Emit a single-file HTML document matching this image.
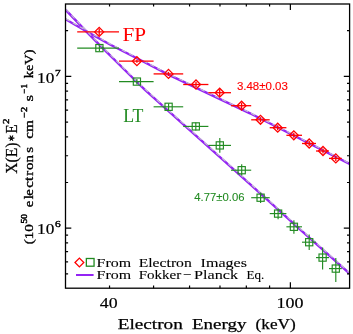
<!DOCTYPE html><html><head><meta charset="utf-8"><style>html,body{margin:0;padding:0;background:#fff}svg{display:block;will-change:transform}text{font-family:"Liberation Serif",serif;fill:#000;stroke:#000;stroke-width:0.25}.s{font-family:"Liberation Sans",sans-serif}</style></head><body>
<svg width="353" height="334" viewBox="0 0 353 334">
<rect width="353" height="334" fill="#fff"/>
<clipPath id="c"><rect x="65.5" y="4.0" width="284.1" height="284.2"/></clipPath>
<g clip-path="url(#c)">
<polyline points="65.5,19.2 87.2,31.8 110,44.5 136.9,58.3 170,75.3 230,103.9 250,113.3 349.6,164.0" fill="none" stroke="#9424f4" stroke-width="2.4" />
<polyline points="65.5,9.7 87.2,32.3 100,45.4 136.9,82.0 145,89.9 185,125.9 225,161.6 265,197.6 301.1,230.3 349.6,273.6" fill="none" stroke="#9424f4" stroke-width="2.4" />
<g transform="translate(0.38,-0.44)" opacity="1">
<polyline points="65.5,19.2 87.2,31.8 110,44.5 136.9,58.3 170,75.3 230,103.9 250,113.3 349.6,164.0" fill="none" stroke="#c6c6ce" stroke-width="1.05" stroke-dasharray="4.5 3.5"/>
<polyline points="65.5,9.7 87.2,32.3 100,45.4 136.9,82.0 145,89.9 185,125.9 225,161.6 265,197.6 301.1,230.3 349.6,273.6" fill="none" stroke="#c6c6ce" stroke-width="1.05" stroke-dasharray="4.5 3.5"/>
</g></g>
<g stroke="#ff0000" stroke-width="1.3" fill="none"><line x1="77.2" y1="31.9" x2="119" y2="31.9"/><line x1="99.2" y1="28.4" x2="99.2" y2="35.4"/><path d="M94.70,31.9L99.2,27.40L103.70,31.9L99.2,36.40Z"/></g>
<g stroke="#ff0000" stroke-width="1.3" fill="none"><line x1="119" y1="61.2" x2="153.6" y2="61.2"/><line x1="136.9" y1="59.7" x2="136.9" y2="62.7"/><path d="M132.40,61.2L136.9,56.70L141.40,61.2L136.9,65.70Z"/></g>
<g stroke="#ff0000" stroke-width="1.3" fill="none"><line x1="153.6" y1="73.9" x2="183.2" y2="73.9"/><line x1="168.5" y1="71.9" x2="168.5" y2="75.9"/><path d="M164.00,73.9L168.5,69.40L173.00,73.9L168.5,78.40Z"/></g>
<g stroke="#ff0000" stroke-width="1.3" fill="none"><line x1="183.2" y1="84.5" x2="208.4" y2="84.5"/><line x1="196.0" y1="82.0" x2="196.0" y2="87.0"/><path d="M191.50,84.5L196.0,80.00L200.50,84.5L196.0,89.00Z"/></g>
<g stroke="#ff0000" stroke-width="1.3" fill="none"><line x1="208.4" y1="92.7" x2="231" y2="92.7"/><line x1="219.7" y1="89.2" x2="219.7" y2="96.2"/><path d="M215.20,92.7L219.7,88.20L224.20,92.7L219.7,97.20Z"/></g>
<g stroke="#ff0000" stroke-width="1.3" fill="none"><line x1="231" y1="105.7" x2="251.2" y2="105.7"/><line x1="241.6" y1="102.7" x2="241.6" y2="108.7"/><path d="M237.10,105.7L241.6,101.20L246.10,105.7L241.6,110.20Z"/></g>
<g stroke="#ff0000" stroke-width="1.3" fill="none"><line x1="251.2" y1="119.8" x2="269.7" y2="119.8"/><line x1="260.5" y1="117.3" x2="260.5" y2="122.3"/><path d="M256.00,119.8L260.5,115.30L265.00,119.8L260.5,124.30Z"/></g>
<g stroke="#ff0000" stroke-width="1.3" fill="none"><line x1="269.7" y1="127.7" x2="286.4" y2="127.7"/><line x1="277.7" y1="125.2" x2="277.7" y2="130.2"/><path d="M273.20,127.7L277.7,123.20L282.20,127.7L277.7,132.20Z"/></g>
<g stroke="#ff0000" stroke-width="1.3" fill="none"><line x1="286.4" y1="135.3" x2="302" y2="135.3"/><line x1="293.8" y1="132.8" x2="293.8" y2="137.8"/><path d="M289.30,135.3L293.8,130.80L298.30,135.3L293.8,139.80Z"/></g>
<g stroke="#ff0000" stroke-width="1.3" fill="none"><line x1="302" y1="143.5" x2="316" y2="143.5"/><line x1="309.2" y1="141.0" x2="309.2" y2="146.0"/><path d="M304.70,143.5L309.2,139.00L313.70,143.5L309.2,148.00Z"/></g>
<g stroke="#ff0000" stroke-width="1.3" fill="none"><line x1="316" y1="151.0" x2="329" y2="151.0"/><line x1="323.0" y1="148.5" x2="323.0" y2="153.5"/><path d="M318.50,151.0L323.0,146.50L327.50,151.0L323.0,155.50Z"/></g>
<g stroke="#ff0000" stroke-width="1.3" fill="none"><line x1="329" y1="158.4" x2="341.8" y2="158.4"/><line x1="335.8" y1="155.9" x2="335.8" y2="160.9"/><path d="M331.30,158.4L335.8,153.90L340.30,158.4L335.8,162.90Z"/></g>
<g stroke="#228b22" stroke-width="1.15" fill="none"><line x1="77.2" y1="48.1" x2="119" y2="48.1"/><line x1="99.4" y1="45.5" x2="99.4" y2="51"/><rect x="95.80" y="44.50" width="7.2" height="7.2"/></g>
<g stroke="#228b22" stroke-width="1.15" fill="none"><line x1="119" y1="81.6" x2="153.6" y2="81.6"/><line x1="136.9" y1="79" x2="136.9" y2="84.5"/><rect x="133.30" y="78.00" width="7.2" height="7.2"/></g>
<g stroke="#228b22" stroke-width="1.15" fill="none"><line x1="153.6" y1="106.8" x2="183.2" y2="106.8"/><line x1="168.6" y1="103.5" x2="168.6" y2="110"/><rect x="165.00" y="103.20" width="7.2" height="7.2"/></g>
<g stroke="#228b22" stroke-width="1.15" fill="none"><line x1="183.2" y1="126.4" x2="208.4" y2="126.4"/><line x1="195.8" y1="122.5" x2="195.8" y2="130.5"/><rect x="192.20" y="122.80" width="7.2" height="7.2"/></g>
<g stroke="#228b22" stroke-width="1.15" fill="none"><line x1="208.4" y1="145.4" x2="231" y2="145.4"/><line x1="219.8" y1="137.9" x2="219.8" y2="152.8"/><rect x="216.20" y="141.80" width="7.2" height="7.2"/></g>
<g stroke="#228b22" stroke-width="1.15" fill="none"><line x1="231" y1="170.2" x2="251.2" y2="170.2"/><line x1="241.7" y1="164.3" x2="241.7" y2="175.5"/><rect x="238.10" y="166.60" width="7.2" height="7.2"/></g>
<g stroke="#228b22" stroke-width="1.15" fill="none"><line x1="251.2" y1="197.7" x2="269.7" y2="197.7"/><line x1="260.6" y1="192.5" x2="260.6" y2="203"/><rect x="257.00" y="194.10" width="7.2" height="7.2"/></g>
<g stroke="#228b22" stroke-width="1.15" fill="none"><line x1="269.7" y1="213.6" x2="286.4" y2="213.6"/><line x1="278.1" y1="208.5" x2="278.1" y2="219.3"/><rect x="274.50" y="210.00" width="7.2" height="7.2"/></g>
<g stroke="#228b22" stroke-width="1.15" fill="none"><line x1="286.4" y1="226.8" x2="302" y2="226.8"/><line x1="293.9" y1="220.2" x2="293.9" y2="233.7"/><rect x="290.30" y="223.20" width="7.2" height="7.2"/></g>
<g stroke="#228b22" stroke-width="1.15" fill="none"><line x1="302" y1="242.2" x2="316" y2="242.2"/><line x1="309.2" y1="234.5" x2="309.2" y2="250"/><rect x="305.60" y="238.60" width="7.2" height="7.2"/></g>
<g stroke="#228b22" stroke-width="1.15" fill="none"><line x1="316" y1="257.6" x2="329" y2="257.6"/><line x1="322.6" y1="247.4" x2="322.6" y2="269.4"/><rect x="319.00" y="254.00" width="7.2" height="7.2"/></g>
<g stroke="#228b22" stroke-width="1.15" fill="none"><line x1="329" y1="268.6" x2="341.8" y2="268.6"/><line x1="335.8" y1="257.9" x2="335.8" y2="282.1"/><rect x="332.20" y="265.00" width="7.2" height="7.2"/></g>
<rect x="65.5" y="4.0" width="284.1" height="284.2" fill="none" stroke="#000" stroke-width="1.3"/>
<path d="M109.54,288.2v-2.6M109.54,4.0v2.6M153.58,288.2v-2.6M153.58,4.0v2.6M189.56,288.2v-2.6M189.56,4.0v2.6M219.98,288.2v-2.6M219.98,4.0v2.6M246.33,288.2v-2.6M246.33,4.0v2.6M269.58,288.2v-2.6M269.58,4.0v2.6M290.37,288.2v-6M290.37,4.0v6M65.5,273.90h2.6M349.6,273.90h-2.6M65.5,261.88h2.6M349.6,261.88h-2.6M65.5,251.71h2.6M349.6,251.71h-2.6M65.5,242.91h2.6M349.6,242.91h-2.6M65.5,235.15h2.6M349.6,235.15h-2.6M65.5,228.20h5.8M349.6,228.20h-5.8M65.5,182.50h2.6M349.6,182.50h-2.6M65.5,155.77h2.6M349.6,155.77h-2.6M65.5,136.81h2.6M349.6,136.81h-2.6M65.5,122.10h2.6M349.6,122.10h-2.6M65.5,110.08h2.6M349.6,110.08h-2.6M65.5,99.91h2.6M349.6,99.91h-2.6M65.5,91.11h2.6M349.6,91.11h-2.6M65.5,83.35h2.6M349.6,83.35h-2.6M65.5,76.40h5.8M349.6,76.40h-5.8M65.5,30.70h2.6M349.6,30.70h-2.6" stroke="#000" stroke-width="1.2" fill="none"/>
<text x="99.8" y="307.7" font-size="15.3" textLength="17.80" lengthAdjust="spacingAndGlyphs" style="stroke-width:0.2;">40</text>
<text x="276.6" y="307.7" font-size="15.3" textLength="27.00" lengthAdjust="spacingAndGlyphs" style="stroke-width:0.2;">100</text>
<text x="37" y="82.7" font-size="15.4" textLength="17.30" lengthAdjust="spacingAndGlyphs" style="stroke-width:0.2;">10</text>
<text x="54.9" y="75.5" font-size="9.2" textLength="5.70" lengthAdjust="spacingAndGlyphs" style="stroke-width:0.4;">7</text>
<text x="37" y="234.4" font-size="15.4" textLength="17.30" lengthAdjust="spacingAndGlyphs" style="stroke-width:0.2;">10</text>
<text x="54.9" y="226.9" font-size="9.2" textLength="5.70" lengthAdjust="spacingAndGlyphs" style="stroke-width:0.4;">6</text>
<text x="117.7" y="328.8" font-size="15.4" textLength="65.10" lengthAdjust="spacingAndGlyphs">Electron</text>
<text x="192.0" y="328.8" font-size="15.4" textLength="54.40" lengthAdjust="spacingAndGlyphs">Energy</text>
<text x="255.6" y="328.8" font-size="15.4" textLength="40.10" lengthAdjust="spacingAndGlyphs">(keV)</text>
<text transform="translate(16.5,173.7) rotate(-90)" font-size="16.5" textLength="31.20" lengthAdjust="spacingAndGlyphs">X(E)</text>
<path d="M8.4,138.1h6M9.9,135.5l3,5.2M12.9,135.5l-3,5.2" stroke="#000" stroke-width="1.1" fill="none"/>
<text transform="translate(16.5,133.6) rotate(-90)" font-size="16.5" textLength="9.10" lengthAdjust="spacingAndGlyphs">E</text>
<text transform="translate(8.7,124.0) rotate(-90)" font-size="9" textLength="5.40" lengthAdjust="spacingAndGlyphs" style="stroke-width:0.45">2</text>
<text transform="translate(33.1,244.3) rotate(-90)" font-size="13" textLength="20.10" lengthAdjust="spacingAndGlyphs" style="stroke-width:0.35">(10</text>
<text transform="translate(27.2,223.4) rotate(-90)" font-size="8.3" textLength="9.40" lengthAdjust="spacingAndGlyphs" style="stroke-width:0.5">50</text>
<text transform="translate(33.1,207.3) rotate(-90) scale(1.15,1)" font-size="13" x="0.00 6.96 10.00 16.96 22.87 27.39 32.43 38.96 47.39" style="stroke-width:0.35">electrons</text>
<text transform="translate(33.1,138.8) rotate(-90)" font-size="13" textLength="18.60" lengthAdjust="spacingAndGlyphs" style="stroke-width:0.35">cm</text>
<text transform="translate(27.2,117.8) rotate(-90)" font-size="8.3" textLength="10.80" lengthAdjust="spacingAndGlyphs" style="stroke-width:0.5">−2</text>
<text transform="translate(33.1,101.5) rotate(-90)" font-size="13" textLength="6.50" lengthAdjust="spacingAndGlyphs" style="stroke-width:0.35">s</text>
<text transform="translate(27.2,93.4) rotate(-90)" font-size="8.3" textLength="9.40" lengthAdjust="spacingAndGlyphs" style="stroke-width:0.5">−1</text>
<text transform="translate(33.1,78.2) rotate(-90)" font-size="13" textLength="28.70" lengthAdjust="spacingAndGlyphs" style="stroke-width:0.35">keV)</text>
<text x="122.4" y="41.0" font-size="19.3" textLength="23.60" lengthAdjust="spacingAndGlyphs" style="fill:#ff0000;stroke:#ff0000;stroke-width:0;">FP</text>
<text x="123.3" y="121.5" font-size="19.3" textLength="20.10" lengthAdjust="spacingAndGlyphs" style="fill:#228b22;stroke:#228b22;stroke-width:0.05;">LT</text>
<text class="s" x="236.9" y="90" font-size="10.2" textLength="51.00" lengthAdjust="spacingAndGlyphs" style="fill:#ff0000;stroke:#ff0000;stroke-width:0.12;">3.48±0.03</text>
<text class="s" x="194.3" y="200.5" font-size="10" textLength="50.20" lengthAdjust="spacingAndGlyphs" style="fill:#228b22;stroke:#228b22;stroke-width:0.08;">4.77±0.06</text>
<g fill="none" stroke="#ff0000" stroke-width="1.3"><path d="M75.00,262.5L79.4,258.10L83.80,262.5L79.4,266.90Z"/></g>
<rect x="86.35" y="258.5" width="7.7" height="7.7" fill="none" stroke="#228b22" stroke-width="1.3"/>
<line x1="76" y1="275" x2="93.6" y2="275" stroke="#9424f4" stroke-width="2"/>
<text x="96.6" y="266.6" font-size="12.4" textLength="34.50" lengthAdjust="spacingAndGlyphs" style="stroke-width:0.1;">From</text>
<text x="138.7" y="266.6" font-size="12.5" textLength="53.10" lengthAdjust="spacingAndGlyphs" style="stroke-width:0.1;">Electron</text>
<text x="200.6" y="266.6" font-size="12.5" textLength="46.40" lengthAdjust="spacingAndGlyphs" style="stroke-width:0.1;">Images</text>
<text x="96.6" y="279.4" font-size="12.4" textLength="34.50" lengthAdjust="spacingAndGlyphs" style="stroke-width:0.1;">From</text>
<text x="138.7" y="279.4" font-size="12.5" textLength="42.60" lengthAdjust="spacingAndGlyphs" style="stroke-width:0.1;">Fokker</text>
<text x="182.7" y="279.4" font-size="12.5" textLength="8.50" lengthAdjust="spacingAndGlyphs" style="stroke-width:0.1;">−</text>
<text x="194" y="279.4" font-size="12.5" textLength="44.00" lengthAdjust="spacingAndGlyphs" style="stroke-width:0.1;">Planck</text>
<text x="246.5" y="279.4" font-size="12.5" textLength="17.80" lengthAdjust="spacingAndGlyphs" style="stroke-width:0.1;">Eq.</text>
</svg></body></html>
